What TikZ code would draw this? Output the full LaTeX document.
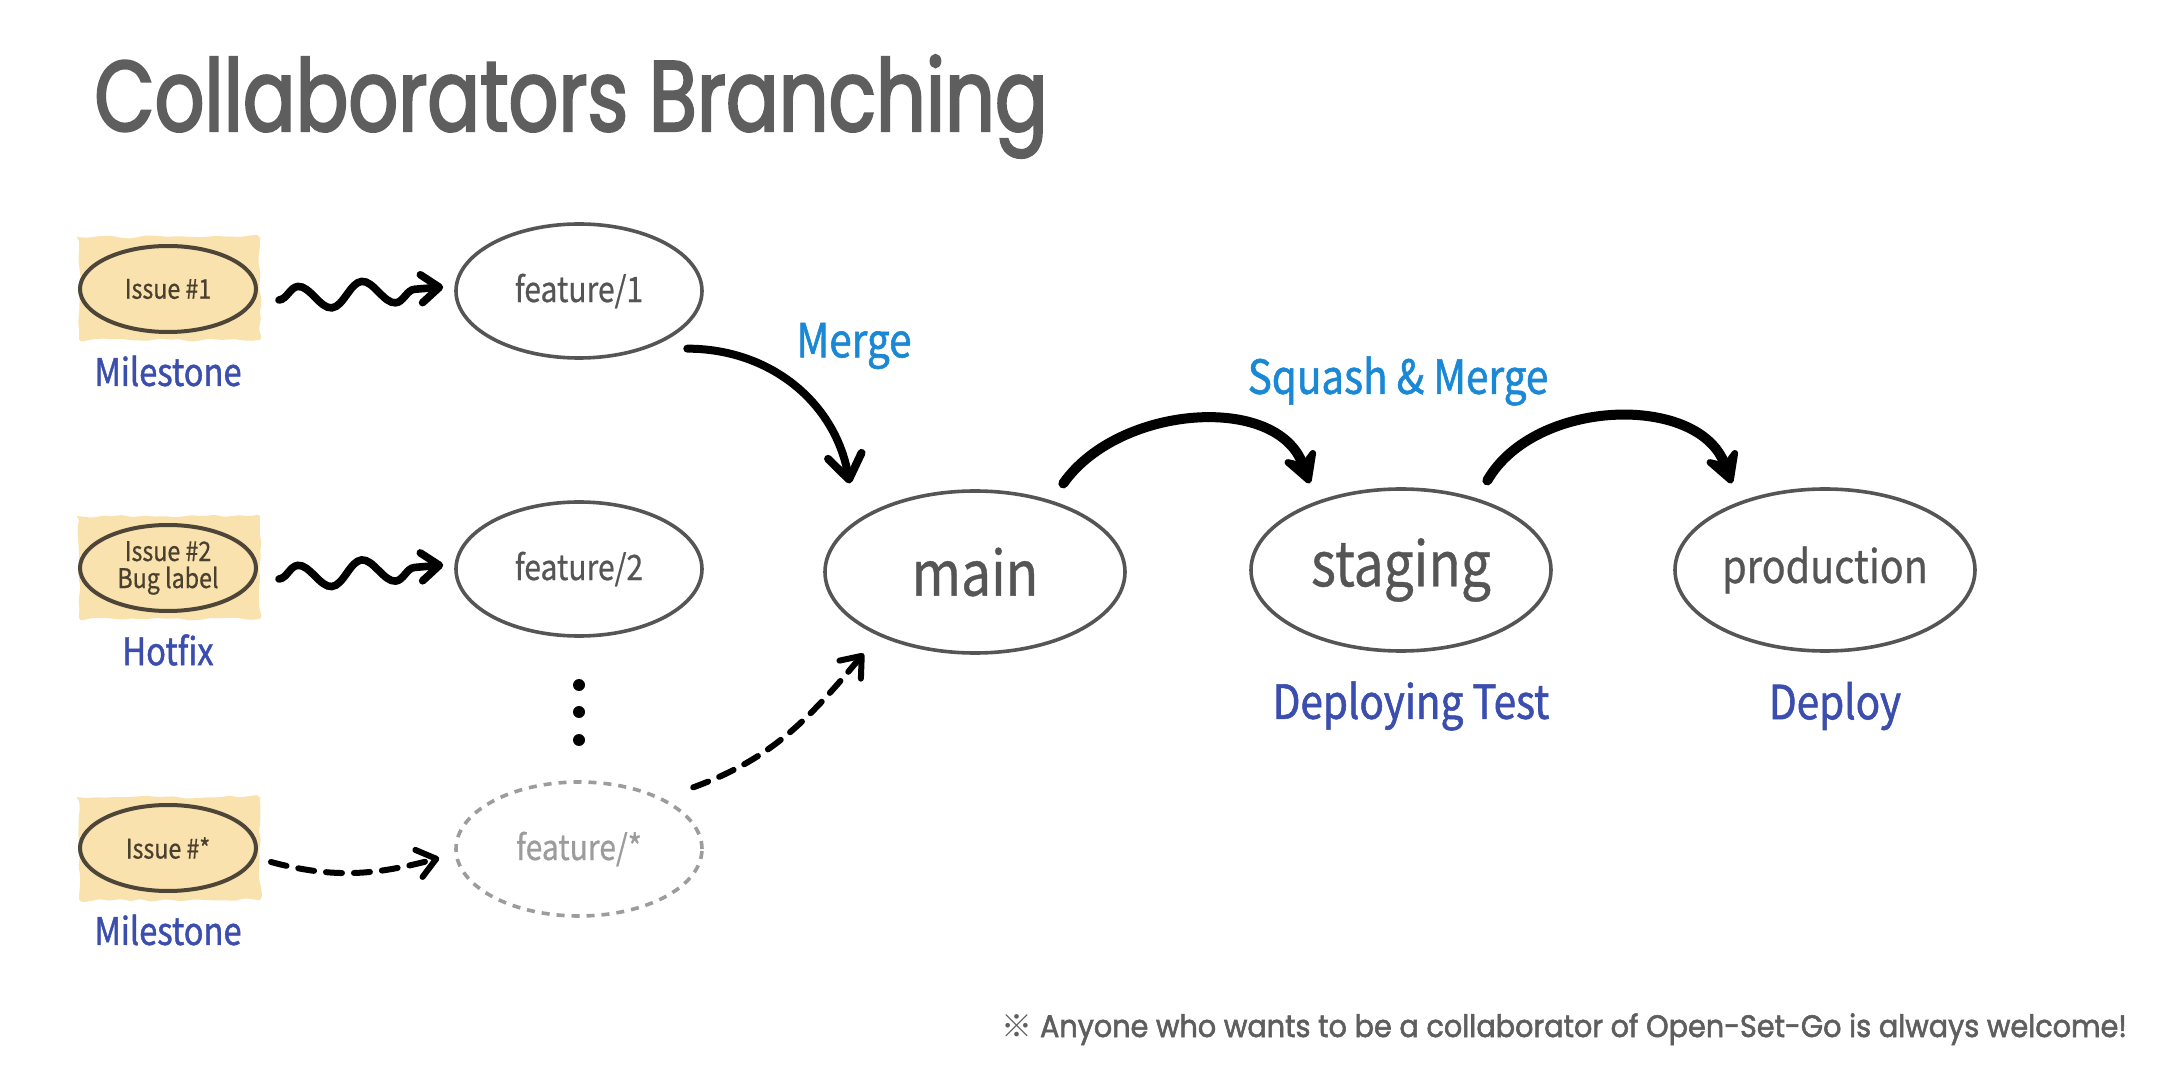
\documentclass[tikz,border=0pt]{standalone}
\usepackage{fontspec}
\setmainfont{Noto Sans CJK KR}[FakeStretch=0.86, FakeBold=0.6]
\newfontfamily\labfont{Noto Sans CJK KR}[FakeStretch=0.86, FakeBold=1.2]
\newfontfamily\titlefont{Poppins}[FakeStretch=0.78, FakeBold=2.2]
\newfontfamily\footfont{Poppins}[FakeStretch=0.925, FakeBold=1.8]
\newfontfamily\markfont{Noto Sans CJK KR}
\usetikzlibrary{arrows.meta,decorations.pathmorphing,shapes.geometric}
\definecolor{nodegray}{HTML}{555555}
\definecolor{titlegray}{HTML}{5E5E5E}
\definecolor{issuefill}{HTML}{F9E2AD}
\definecolor{issueedge}{HTML}{4D4638}
\definecolor{issuetext}{HTML}{4A4030}
\definecolor{labblue}{HTML}{3B4EAE}
\definecolor{actblue}{HTML}{1B88D6}
\definecolor{ghost}{HTML}{9C9C9C}
\tikzset{
  issue/.style={ellipse, draw=issueedge, line width=2pt, fill=issuefill,
    minimum width=88pt, minimum height=43pt, inner sep=0pt, text=issuetext,
    font=\fontsize{13.5}{13.5}\selectfont, align=center},
  feat/.style={ellipse, draw=nodegray, line width=1.8pt, minimum width=123pt,
    minimum height=67pt, inner sep=0pt, text=nodegray,
    font=\fontsize{17.5}{20}\selectfont},
  ghostfeat/.style={feat, draw=ghost, text=ghost, dash pattern=on 4pt off 3.5pt},
  envnode/.style={ellipse, draw=nodegray, line width=1.8pt, minimum width=150pt,
    minimum height=81pt, inner sep=0pt, text=nodegray},
  lab/.style={text=labblue, font=\labfont\fontsize{19}{22}\selectfont},
  labbig/.style={text=labblue, font=\labfont\fontsize{23.5}{26}\selectfont},
  act/.style={text=actblue, font=\labfont\fontsize{23.5}{26}\selectfont},
  patch/.style={fill=issuefill, decorate, rounded corners=2pt,
    decoration={random steps, segment length=4pt, amplitude=0.8pt}},
  wavearrow/.style={line width=3.8pt, line cap=round, decorate,
    decoration={snake, amplitude=6pt, segment length=32pt, post length=14pt},
    -{Straight Barb[length=9pt,width=14pt,line cap=round,line join=round]}},
  dasharrow/.style={line width=3pt, line cap=round, dash pattern=on 8pt off 6pt,
    -{Straight Barb[length=9pt,width=14pt,line cap=round,line join=round]}},
  mergearrow/.style={line width=4pt, line cap=round,
    -{Straight Barb[length=12pt,width=17pt,line cap=round,line join=round]}},
  bigarrow/.style={line width=5pt, line cap=round,
    -{Stealth[length=20pt,width=22pt,inset=7pt,round]}},
}
\begin{document}
\begin{tikzpicture}[x=0.5pt,y=0.5pt]
\useasboundingbox (0,0) rectangle (2160,-1080);
\fill[white] (0,0) rectangle (2160,-1080);

% title
\node[anchor=base west, inner sep=0pt, text=titlegray,
  font=\titlefont\fontsize{50}{50}\selectfont] (title) at (94,-131) {Collaborators Branching};

% patches behind issues
\pgfmathsetseed{7}
\fill[patch] (79,-237) rectangle (260,-340);
\fill[patch] (79,-516) rectangle (260,-619);
\fill[patch] (79,-797) rectangle (260,-900);

% issue nodes
\node[issue] (i1) at (168,-289) {Issue \#1};
\node[issue] (i2) at (168,-568) {Issue \#2\\Bug label};
\node[issue] (i3) at (168,-848) {Issue \#*};
\node[lab] (m1) at (168,-371) {Milestone};
\node[lab] (m2) at (168,-650) {Hotfix};
\node[lab] (m3) at (168,-930) {Milestone};

% feature nodes
\node[feat] (f1) at (579,-291) {feature/1};
\node[feat] (f2) at (579,-569) {feature/2};
\node[ghostfeat] (f3) at (579,-849) {feature/*};
\fill (579,-685) circle (3pt);
\fill (579,-712) circle (3pt);
\fill (579,-740) circle (3pt);

% environment nodes
\node[envnode, font=\fontsize{31}{34}\selectfont] (main) at (975,-572) {main};
\node[envnode, font=\fontsize{31}{34}\selectfont] (staging) at (1401,-570) {staging};
\node[envnode, font=\fontsize{23}{26}\selectfont] (prod) at (1825,-570) {production};
\node[labbig] (dt) at (1411,-706) {Deploying Test};
\node[labbig] (dp) at (1835,-706) {Deploy};

% action labels
\node[act] (merge) at (854,-346) {Merge};
\node[act] (squash) at (1398,-381) {Squash \& Merge};

% connectors
\draw[wavearrow] ([xshift=10.5pt,yshift=-5.5pt]i1.east) -- ([xshift=-5.5pt,yshift=2pt]f1.west);
\draw[wavearrow] ([xshift=10.5pt,yshift=-5.5pt]i2.east) -- ([xshift=-5.5pt,yshift=2pt]f2.west);
\draw[dasharrow] ([xshift=6.5pt,yshift=-7pt]i3.east) to[out=-15,in=195] ([xshift=-7.5pt,yshift=-4.5pt]f3.west);
\draw[mergearrow] ([xshift=10pt,yshift=-4.5pt]f1.south east) to[out=0,in=100] ([xshift=-9pt,yshift=15pt]main.north west);
\draw[dasharrow] ([xshift=13pt,yshift=6.5pt]f3.north east) to[out=20,in=230] ([xshift=-2pt,yshift=-11.5pt]main.south west);
\draw[bigarrow] ([xshift=-9.5pt,yshift=15pt]main.north east) to[out=55,in=110] ([xshift=8pt,yshift=14pt]staging.north west);
\draw[bigarrow] ([xshift=-10.5pt,yshift=15.5pt]staging.north east) to[out=60,in=110] ([xshift=7pt,yshift=14pt]prod.north west);

% footer
\node[anchor=base west, inner sep=0pt, text=titlegray,
  font=\footfont\fontsize{15.5}{16}\selectfont] (foot) at (1001,-1037)
  {{\markfont ※} Anyone who wants to be a collaborator of Open-Set-Go is always welcome!};
\end{tikzpicture}
\end{document}
